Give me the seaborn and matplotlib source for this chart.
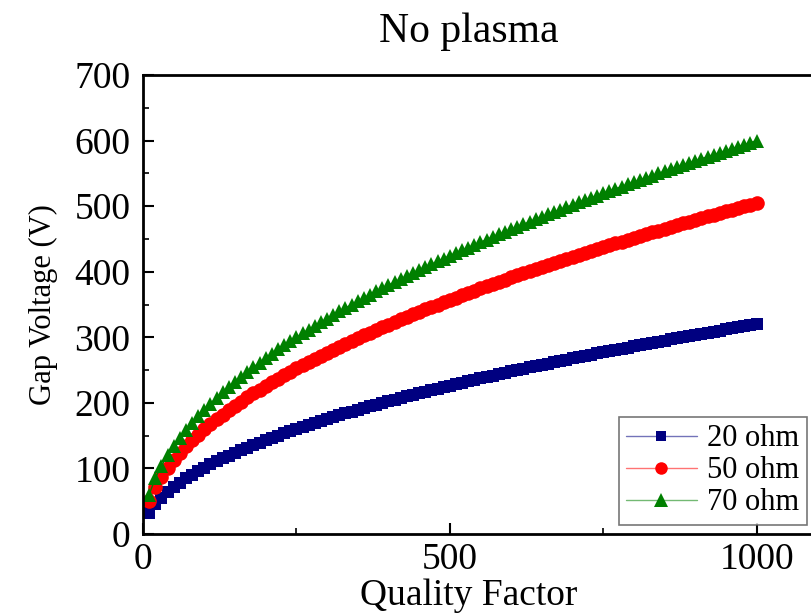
import matplotlib
matplotlib.use("Agg")
import matplotlib.pyplot as plt
import seaborn as sns
import pandas as pd
from matplotlib.ticker import MultipleLocator
from matplotlib.lines import Line2D

quality_factor = list(range(10, 1001, 10))

v_20ohm = [32.0, 45.3, 55.4, 64.0, 71.6, 78.4, 84.7, 90.5, 96.0, 101.2,
           106.1, 110.9, 115.4, 119.7, 123.9, 128.0, 131.9, 135.8, 139.5, 143.1,
           146.6, 150.1, 153.5, 156.8, 160.0, 163.2, 166.3, 169.3, 172.3, 175.3,
           178.2, 181.0, 183.8, 186.6, 189.3, 192.0, 194.6, 197.3, 199.8, 202.4,
           204.9, 207.4, 209.8, 212.3, 214.7, 217.0, 219.4, 221.7, 224.0, 226.3,
           228.5, 230.8, 233.0, 235.2, 237.3, 239.5, 241.6, 243.7, 245.8, 247.9,
           249.9, 252.0, 254.0, 256.0, 258.0, 260.0, 261.9, 263.9, 265.8, 267.7,
           269.6, 271.5, 273.4, 275.3, 277.1, 279.0, 280.8, 282.6, 284.4, 286.2,
           288.0, 289.8, 291.5, 293.3, 295.0, 296.8, 298.5, 300.2, 301.9, 303.6,
           305.3, 306.9, 308.6, 310.3, 311.9, 313.5, 315.2, 316.8, 318.4, 320.0]

v_50ohm = [50.5, 71.4, 87.5, 101.0, 112.9, 123.7, 133.6, 142.8, 151.5, 159.7,
           167.5, 174.9, 182.1, 189.0, 195.6, 202.0, 208.2, 214.3, 220.1, 225.8,
           231.4, 236.9, 242.2, 247.4, 252.5, 257.5, 262.4, 267.2, 272.0, 276.6,
           281.2, 285.7, 290.1, 294.5, 298.8, 303.0, 307.2, 311.3, 315.4, 319.4,
           323.4, 327.3, 331.2, 335.0, 338.8, 342.5, 346.2, 349.9, 353.5, 357.1,
           360.6, 364.2, 367.6, 371.1, 374.5, 377.9, 381.3, 384.6, 387.9, 391.2,
           394.4, 397.6, 400.8, 404.0, 407.1, 410.3, 413.4, 416.4, 419.5, 422.5,
           425.5, 428.5, 431.5, 434.4, 437.4, 440.3, 443.1, 446.0, 448.9, 451.7,
           454.5, 457.3, 460.1, 462.8, 465.6, 468.3, 471.0, 473.7, 476.4, 479.1,
           481.7, 484.4, 487.0, 489.6, 492.2, 494.8, 497.4, 499.9, 502.5, 505.0]

v_70ohm = [60.0, 84.9, 103.9, 120.0, 134.2, 147.0, 158.7, 169.7, 180.0, 189.7,
           199.0, 207.8, 216.3, 224.5, 232.4, 240.0, 247.4, 254.6, 261.5, 268.3,
           275.0, 281.4, 287.7, 293.9, 300.0, 305.9, 311.8, 317.5, 323.1, 328.6,
           334.1, 339.4, 344.7, 349.9, 355.0, 360.0, 365.0, 369.9, 374.7, 379.5,
           384.2, 388.8, 393.4, 398.0, 402.5, 406.9, 411.3, 415.7, 420.0, 424.3,
           428.5, 432.7, 436.8, 440.9, 445.0, 449.0, 453.0, 457.0, 460.9, 464.8,
           468.6, 472.4, 476.2, 480.0, 483.7, 487.4, 491.1, 494.8, 498.4, 502.0,
           505.6, 509.1, 512.6, 516.1, 519.6, 523.1, 526.5, 529.9, 533.3, 536.7,
           540.0, 543.3, 546.6, 549.9, 553.2, 556.4, 559.6, 562.8, 566.0, 569.2,
           572.3, 575.5, 578.6, 581.7, 584.8, 587.9, 590.9, 594.0, 597.0, 600.0]

series_labels = ["20 ohm", "50 ohm", "70 ohm"]

sns.set_theme(style="white")
plt.rcParams['font.family'] = ['Liberation Serif', 'DejaVu Serif']
plt.rcParams['text.color'] = 'black'
plt.rcParams['axes.labelcolor'] = 'black'
plt.rcParams['xtick.color'] = 'black'
plt.rcParams['ytick.color'] = 'black'

rows = []
for lab, vals in zip(series_labels, [v_20ohm, v_50ohm, v_70ohm]):
    for q, v in zip(quality_factor, vals):
        rows.append({"Quality Factor": q, "Gap Voltage": v, "series": lab})
df = pd.DataFrame(rows)

fig = plt.figure(figsize=(8.12, 6.15), dpi=100)
ax = fig.add_axes([143/812, 81/615, 675/812, 459/615])

palette = {"20 ohm": "#000080", "50 ohm": "#FF0000", "70 ohm": "#008000"}
markers = {"20 ohm": "s", "50 ohm": "o", "70 ohm": "^"}
msize = {"20 ohm": 9, "50 ohm": 10.5, "70 ohm": 10.5}
leg_msize = {"20 ohm": 7, "50 ohm": 9, "70 ohm": 10}

for lab in series_labels:
    sub = df[df["series"] == lab]
    sns.lineplot(data=sub, x="Quality Factor", y="Gap Voltage", ax=ax,
                 color=palette[lab], marker=markers[lab], markersize=msize[lab],
                 markeredgewidth=0, linewidth=1, legend=False)

ax.set_xlim(0, 1100)
ax.set_ylim(0, 700)
ax.xaxis.set_major_locator(MultipleLocator(500))
ax.xaxis.set_minor_locator(MultipleLocator(250))
ax.yaxis.set_major_locator(MultipleLocator(100))
ax.yaxis.set_minor_locator(MultipleLocator(50))
ax.tick_params(axis="y", which="major", pad=9)
ax.tick_params(axis="x", which="major", pad=6)
ax.tick_params(which="major", direction="in", length=8, width=1.5,
               labelsize=27, colors="black")
ax.tick_params(which="minor", direction="in", length=4, width=1.2)
ax.tick_params(axis="both", which="both", bottom=True, left=True)

for s in ax.spines.values():
    s.set_linewidth(2)
    s.set_color("black")

cx = (469 - 143) / 675
ax.set_xlabel("Quality Factor", fontsize=27, labelpad=1, x=cx)
ax.set_ylabel("Gap Voltage (V)", fontsize=22, labelpad=12)
ax.set_title("No plasma", fontsize=30, pad=24, x=cx)

handles = []
for lab in series_labels:
    ln = Line2D([], [], color=palette[lab], linewidth=1, alpha=0.55)
    mk = Line2D([], [], color=palette[lab], linestyle="none",
                marker=markers[lab], markersize=leg_msize[lab], markeredgewidth=0)
    handles.append((ln, mk))
leg = ax.legend(handles, series_labels, loc="lower right",
                bbox_to_anchor=(807/812, 90/615),
                bbox_transform=fig.transFigure,
                fontsize=22, frameon=True, fancybox=False, handlelength=2.3,
                handletextpad=0.35, borderpad=0.25, labelspacing=0.1,
                borderaxespad=0)
leg.get_frame().set_edgecolor("#555555")
leg.get_frame().set_linewidth(1.2)

fig.savefig("out.png", dpi=100)
